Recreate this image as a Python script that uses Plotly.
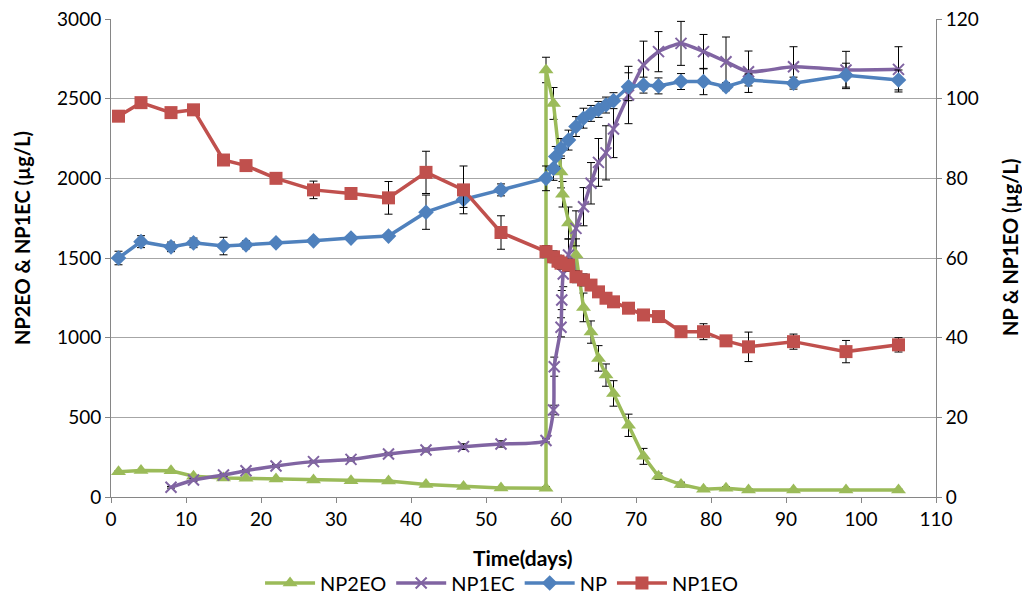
import plotly.graph_objects as go

# ---------------- data ----------------
np2eo_days = [1, 4, 8, 11, 15, 18, 22, 27, 32, 37, 42, 47, 52, 58, 58, 59, 60, 60.2, 61, 62, 63, 64, 65, 66, 67, 69, 71, 73, 76, 79, 82, 85, 91, 98, 105]
np2eo_vals = [159, 167, 165, 130, 120, 117, 113, 107, 102, 100, 78, 66, 57, 55, 2680, 2470, 2040, 1900, 1720, 1520, 1190, 1035, 870, 765, 650, 450, 255, 130, 78, 48, 55, 44, 44, 44, 44]
np2eo_err = [5, 5, 5, 5, 5, 5, 5, 5, 5, 5, 5, 5, 5, 10, 80, 100, 100, 80, 100, 100, 90, 70, 80, 70, 80, 70, 50, 20, 15, 10, 10, 8, 5, 5, 5]

np1ec_days = [8, 11, 15, 18, 22, 27, 32, 37, 42, 47, 52, 58, 59, 59.1, 60, 60.1, 60.3, 61, 62, 63, 64, 65, 66, 67, 69, 71, 73, 76, 79, 82, 85, 91, 98, 105]
np1ec_vals = [61, 107, 138, 165, 195, 222, 236, 270, 295, 316, 333, 355, 546, 818, 1065, 1236, 1400, 1519, 1686, 1822, 1969, 2100, 2160, 2310, 2523, 2711, 2795, 2847, 2795, 2732, 2669, 2700, 2680, 2684]
np1ec_err = [5, 8, 8, 8, 8, 8, 10, 10, 12, 18, 20, 10, 30, 60, 60, 60, 80, 100, 110, 120, 130, 150, 170, 180, 180, 150, 126, 138, 108, 155, 130, 126, 117, 142]

np_days = [1, 4, 8, 11, 15, 18, 22, 27, 32, 37, 42, 47, 52, 58, 59, 59.3, 60, 61, 62, 63, 64, 65, 66, 67, 69, 71, 73, 76, 79, 82, 85, 91, 98, 105]
np_vals = [60.0, 64.1, 62.8, 63.8, 63.0, 63.3, 63.8, 64.3, 65.0, 65.5, 71.5, 74.7, 77.1, 80.0, 82.5, 85.5, 87.5, 89.6, 93.0, 95.1, 96.3, 97.3, 98.4, 99.5, 103.0, 103.4, 103.2, 104.3, 104.3, 103.0, 104.7, 103.9, 105.9, 104.7]
np_err = [1.7, 1.5, 1.2, 1.2, 2.2, 1.0, 0.5, 0.5, 0.5, 0.5, 4.3, 2.0, 1.5, 3.1, 3.0, 2.5, 2.5, 2.5, 2.5, 2.5, 2.0, 2.0, 2.0, 2.0, 3.5, 2.0, 2.0, 2.0, 3.3, 1.0, 1.5, 1.5, 3.0, 2.5]

np1eo_days = [1, 4, 8, 11, 15, 18, 22, 27, 32, 37, 42, 47, 52, 58, 59, 59.6, 60, 61, 62, 63, 64, 65, 66, 67, 69, 71, 73, 76, 79, 82, 85, 91, 98, 105]
np1eo_vals = [95.6, 99.0, 96.5, 97.2, 84.6, 83.2, 80.0, 77.1, 76.2, 75.1, 81.5, 77.1, 66.4, 61.6, 60.3, 59.2, 58.7, 58.2, 55.3, 54.5, 53.2, 51.5, 49.9, 49.0, 47.4, 45.7, 45.3, 41.5, 41.5, 39.2, 37.7, 39.0, 36.5, 38.2]
np1eo_err = [0, 0, 0, 0, 0, 0, 0, 2.2, 0.5, 4.1, 5.3, 6.0, 4.2, 1.5, 1.5, 1.5, 1.5, 1.5, 1.5, 1.5, 1.0, 1.0, 1.0, 1.0, 1.0, 0.8, 0.8, 0.8, 2.0, 0.8, 3.7, 1.9, 2.8, 1.8]

x_ticks = list(range(0, 111, 10))
left_ticks = list(range(0, 3001, 500))
right_ticks = list(range(0, 121, 20))

x_title = "Time(days)"
left_title = "NP2EO &amp; NP1EC (µg/L)"
right_title = "NP &amp; NP1EO (µg/L)"

GREEN = "#9BBB59"
PURPLE = "#8064A2"
BLUE = "#4F81BD"
RED = "#C0504D"
FONT = "Lato"


def err(vals):
    return dict(type="data", array=vals, visible=True, color="#000000", thickness=1, width=4)


fig = go.Figure()
fig.add_trace(go.Scatter(
    x=np2eo_days, y=np2eo_vals, name="NP2EO", mode="lines+markers",
    line=dict(color=GREEN, width=3.5),
    marker=dict(symbol="triangle-up", size=13, color=GREEN),
    error_y=err(np2eo_err), yaxis="y"))
fig.add_trace(go.Scatter(
    x=np1ec_days, y=np1ec_vals, name="NP1EC", mode="lines+markers",
    line=dict(color=PURPLE, width=3.5, shape="spline", smoothing=0.6),
    marker=dict(symbol="x-thin", size=11, color=PURPLE, line=dict(color=PURPLE, width=2)),
    error_y=err(np1ec_err), yaxis="y"))
fig.add_trace(go.Scatter(
    x=np_days, y=np_vals, name="NP", mode="lines+markers",
    line=dict(color=BLUE, width=3.5),
    marker=dict(symbol="diamond", size=12, color=BLUE),
    error_y=err(np_err), yaxis="y2"))
fig.add_trace(go.Scatter(
    x=np1eo_days, y=np1eo_vals, name="NP1EO", mode="lines+markers",
    line=dict(color=RED, width=3.5),
    marker=dict(symbol="square", size=13, color=RED),
    error_y=err(np1eo_err), yaxis="y2"))

axis_common = dict(showline=True, linecolor="#868686", linewidth=1,
                   ticks="outside", ticklen=5, tickcolor="#868686",
                   tickfont=dict(family=FONT, size=19, color="#000000"),
                   zeroline=False, automargin=False)

PL, PR, PT, PB = 111, 936, 19, 497
W, H = 1022, 600


def px_to_paper_x(px):
    return (px - PL) / (PR - PL)


def px_to_paper_y(py):
    return (PB - py) / (PB - PT)


fig.update_layout(
    width=W, height=H,
    margin=dict(l=PL, r=W - PR, t=PT, b=H - PB, autoexpand=False),
    paper_bgcolor="white", plot_bgcolor="white",
    font=dict(family=FONT, color="#000000"),
    xaxis=dict(range=[0, 110], tickvals=x_ticks, showgrid=False, **axis_common),
    yaxis=dict(range=[0, 3000], tickvals=left_ticks, showgrid=True, gridcolor="#A6A6A6", gridwidth=1,
               **axis_common),
    yaxis2=dict(range=[0, 120], tickvals=right_ticks, overlaying="y", side="right", showgrid=False,
                **axis_common),
    legend=dict(orientation="h", x=0.474, xanchor="center", y=px_to_paper_y(583), yanchor="middle",
                font=dict(family=FONT, size=20), itemwidth=50, bgcolor="rgba(0,0,0,0)"),
    showlegend=True,
    annotations=[
        dict(text="<b>" + x_title + "</b>", xref="paper", yref="paper",
             x=px_to_paper_x(523), y=px_to_paper_y(557), xanchor="center", yanchor="middle",
             showarrow=False, font=dict(family=FONT, size=21)),
        dict(text="<b>" + left_title + "</b>", xref="paper", yref="paper", textangle=-90,
             x=px_to_paper_x(22), y=px_to_paper_y(238), xanchor="center", yanchor="middle",
             showarrow=False, font=dict(family=FONT, size=20)),
        dict(text="<b>" + right_title + "</b>", xref="paper", yref="paper", textangle=-90,
             x=px_to_paper_x(1010), y=px_to_paper_y(247), xanchor="center", yanchor="middle",
             showarrow=False, font=dict(family=FONT, size=20)),
    ],
)

fig.write_html("out.html")
